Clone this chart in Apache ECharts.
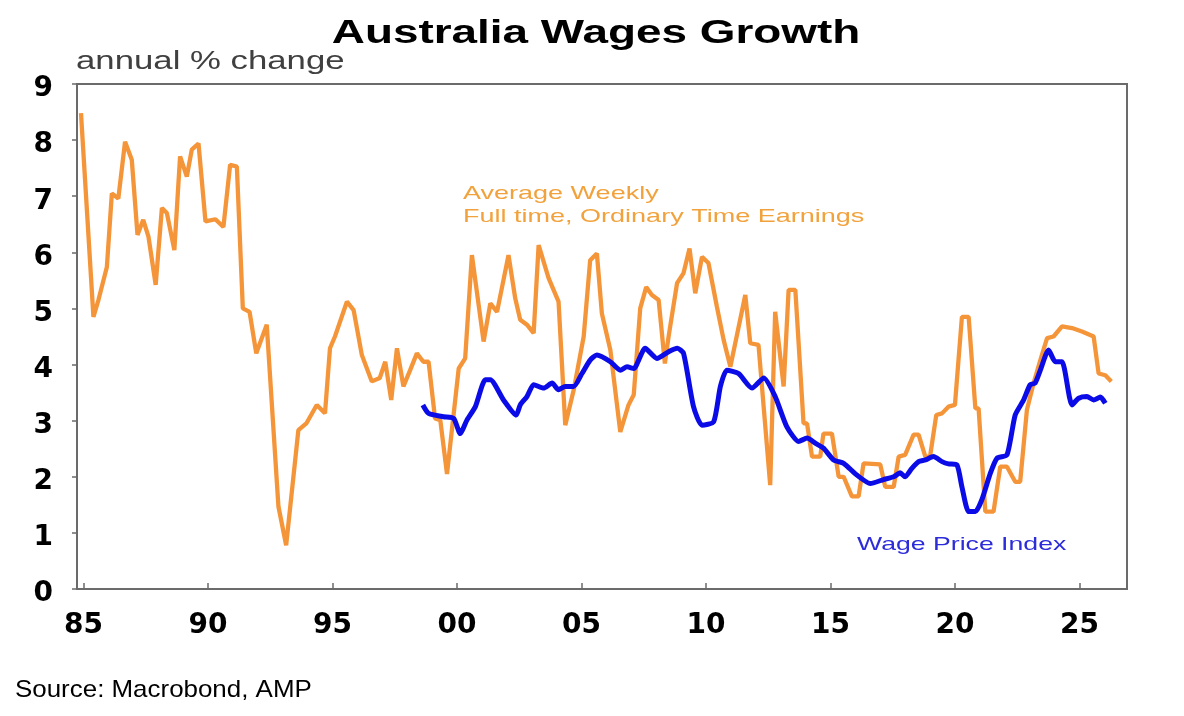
<!DOCTYPE html>
<html>
<head>
<meta charset="utf-8">
<title>Australia Wages Growth</title>
<script src="https://cdn.jsdelivr.net/npm/echarts@6/dist/echarts.min.js"></script>
<style>
  html, body { margin: 0; padding: 0; background: #fff; }
  #main { width: 1184px; height: 716px; }
</style>
</head>
<body>
<div id="main"></div>
<script>
// Average weekly full time ordinary time earnings, annual % change
var awoteYears = [1984.9, 1985.4, 1985.6, 1985.94, 1986.14, 1986.4, 1986.67, 1986.94, 1987.17, 1987.4,
  1987.61, 1987.9, 1988.15, 1988.35, 1988.65, 1988.88, 1989.15, 1989.35, 1989.62, 1989.9,
  1990.3, 1990.62, 1990.89, 1991.16, 1991.4, 1991.67, 1991.94, 1992.36, 1992.83, 1993.14,
  1993.63, 1993.95, 1994.37, 1994.7, 1994.9, 1995.1, 1995.58, 1995.85, 1996.18, 1996.58,
  1996.9, 1997.12, 1997.36, 1997.59, 1997.85, 1998.12, 1998.39, 1998.65, 1998.86, 1999.12,
  1999.33, 1999.6, 2000.07, 2000.33, 2000.6, 2001.07, 2001.34, 2001.61, 2002.07, 2002.34,
  2002.54, 2002.81, 2003.08, 2003.28, 2003.68, 2004.08, 2004.35, 2004.69, 2005.09, 2005.35,
  2005.62, 2005.82, 2006.16, 2006.56, 2006.89, 2007.1, 2007.36, 2007.6, 2007.83, 2008.1,
  2008.35, 2008.5, 2008.84, 2009.1, 2009.34, 2009.57, 2009.84, 2010.1, 2010.44, 2010.71,
  2010.98, 2011.58, 2011.78, 2012.11, 2012.58, 2012.78, 2013.12, 2013.32, 2013.59, 2013.92,
  2014.06, 2014.26, 2014.59, 2014.72, 2015.06, 2015.33, 2015.53, 2015.86, 2016.13, 2016.33,
  2017.0, 2017.2, 2017.54, 2017.74, 2018.0, 2018.34, 2018.54, 2018.81, 2019.0, 2019.25,
  2019.48, 2019.74, 2020.0, 2020.28, 2020.55, 2020.82, 2020.95, 2021.22, 2021.55, 2021.82,
  2022.09, 2022.42, 2022.62, 2022.89, 2023.16, 2023.43, 2023.7, 2023.96, 2024.3, 2024.7,
  2025.1, 2025.57, 2025.77, 2026.04, 2026.28];
var awoteValues = [8.48, 4.85, 5.15, 5.74, 7.05, 6.96, 7.97, 7.65, 6.31, 6.58,
  6.28, 5.42, 6.79, 6.70, 6.04, 7.71, 7.35, 7.83, 7.94, 6.55,
  6.59, 6.45, 7.56, 7.53, 5.00, 4.94, 4.20, 4.71, 1.47, 0.78,
  2.83, 2.95, 3.28, 3.13, 4.29, 4.50, 5.12, 4.97, 4.17, 3.70,
  3.76, 4.05, 3.37, 4.29, 3.61, 3.90, 4.20, 4.05, 4.05, 3.04,
  3.01, 2.05, 3.93, 4.11, 5.95, 4.41, 5.09, 4.94, 5.95, 5.18,
  4.80, 4.71, 4.56, 6.13, 5.54, 5.12, 2.92, 3.55, 4.50, 5.86,
  5.98, 4.91, 4.26, 2.80, 3.28, 3.46, 5.00, 5.38, 5.24, 5.15,
  4.02, 4.50, 5.45, 5.63, 6.07, 5.27, 5.92, 5.81, 5.03, 4.44,
  3.96, 5.24, 4.38, 4.35, 1.85, 4.94, 3.61, 5.33, 5.33, 2.95,
  2.95, 2.36, 2.36, 2.77, 2.77, 2.00, 2.00, 1.65, 1.65, 2.24,
  2.22, 1.82, 1.82, 2.36, 2.39, 2.75, 2.75, 2.36, 2.36, 3.10,
  3.13, 3.25, 3.28, 4.85, 4.85, 3.22, 3.22, 1.38, 1.38, 2.18,
  2.18, 1.91, 1.91, 3.19, 3.67, 4.08, 4.47, 4.50, 4.68, 4.65,
  4.59, 4.50, 3.84, 3.81, 3.70];

// Wage price index, annual % change
var wpiYears = [1998.63, 1998.86, 1999.46, 1999.87, 2000.13, 2000.4, 2000.74, 2001.14, 2001.34, 2001.87,
  2002.38, 2002.54, 2002.81, 2003.08, 2003.48, 2003.82, 2004.08, 2004.35, 2004.69, 2005.02,
  2005.35, 2005.62, 2006.16, 2006.56, 2006.83, 2007.1, 2007.56, 2008.03, 2008.5, 2008.85,
  2009.1, 2009.5, 2009.84, 2010.31, 2010.58, 2010.84, 2011.31, 2011.85, 2012.32, 2012.78,
  2013.25, 2013.72, 2014.06, 2014.39, 2014.72, 2015.13, 2015.53, 2016.06, 2016.6, 2017.13,
  2017.54, 2017.8, 2018.0, 2018.27, 2018.54, 2018.81, 2019.14, 2019.48, 2019.74, 2020.08,
  2020.28, 2020.55, 2020.82, 2021.08, 2021.42, 2021.69, 2022.09, 2022.42, 2022.76, 2023.02,
  2023.22, 2023.43, 2023.76, 2024.03, 2024.3, 2024.7, 2024.97, 2025.3, 2025.57, 2025.84,
  2026.04];
var wpiValues = [3.28, 3.13, 3.07, 3.04, 2.77, 3.01, 3.25, 3.73, 3.73, 3.37,
  3.10, 3.28, 3.43, 3.64, 3.58, 3.67, 3.55, 3.61, 3.61, 3.84,
  4.08, 4.17, 4.05, 3.90, 3.96, 3.93, 4.29, 4.11, 4.23, 4.29,
  4.20, 3.25, 2.92, 2.98, 3.61, 3.90, 3.84, 3.58, 3.76, 3.43,
  2.89, 2.63, 2.69, 2.60, 2.51, 2.30, 2.24, 2.03, 1.88, 1.95,
  2.00, 2.07, 2.00, 2.15, 2.27, 2.30, 2.36, 2.27, 2.23, 2.21,
  1.82, 1.38, 1.38, 1.59, 2.06, 2.33, 2.39, 3.10, 3.37, 3.64,
  3.67, 3.90, 4.26, 4.05, 4.05, 3.28, 3.40, 3.43, 3.37, 3.42,
  3.31];

var xTicks = [1985, 1990, 1995, 2000, 2005, 2010, 2015, 2020, 2025];
var yTicks = [0, 1, 2, 3, 4, 5, 6, 7, 8, 9];

function pairs(xs, ys) {
  var out = [];
  for (var i = 0; i < xs.length; i++) {
    out.push([xs[i], ys[i]]);
  }
  return out;
}

var chart = echarts.init(document.getElementById('main'), null, { renderer: 'canvas' });

var axisGray = '#6b6b6b';

var option = {
  animation: false,
  backgroundColor: '#ffffff',
  grid: {
    left: 77,
    right: 57,
    top: 84,
    bottom: 127,
    show: true,
    borderColor: axisGray,
    borderWidth: 2
  },
  xAxis: {
    type: 'value',
    min: 1984.74,
    max: 2026.91,
    splitLine: { show: false },
    axisLine: { show: true, lineStyle: { color: axisGray, width: 2 } },
    axisTick: {
      show: true,
      inside: true,
      length: 6,
      customValues: xTicks,
      lineStyle: { color: axisGray, width: 1.5 }
    },
    axisLabel: {
      customValues: xTicks,
      margin: 23,
      color: '#000',
      fontFamily: 'DejaVu Sans',
      fontWeight: 'bold',
      fontSize: 28,
      formatter: function (v) {
        return String(v).slice(2);
      }
    }
  },
  yAxis: {
    type: 'value',
    min: 0,
    max: 9,
    interval: 1,
    splitLine: { show: false },
    axisLine: { show: true, lineStyle: { color: axisGray, width: 2 } },
    axisTick: {
      show: true,
      inside: false,
      length: 5,
      customValues: yTicks,
      lineStyle: { color: axisGray, width: 1.5 }
    },
    axisLabel: {
      margin: 24,
      verticalAlign: 'top',
      lineHeight: 10,
      color: '#000',
      fontFamily: 'DejaVu Sans',
      fontWeight: 'bold',
      fontSize: 28
    }
  },
  series: [
    {
      name: 'Average Weekly Full time, Ordinary Time Earnings',
      type: 'line',
      data: pairs(awoteYears, awoteValues),
      showSymbol: false,
      lineStyle: { color: '#F5953A', width: 4.3 },
      z: 2
    },
    {
      name: 'Wage Price Index',
      type: 'line',
      data: pairs(wpiYears, wpiValues),
      showSymbol: false,
      smooth: 0.2,
      lineStyle: { color: '#0B0BE8', width: 5 },
      z: 3
    }
  ],
  graphic: [
    {
      type: 'text', x: 596, y: 34, scaleX: 1.39,
      style: { text: 'Australia Wages Growth', fill: '#000', fontFamily: 'Liberation Sans',
        fontWeight: 'bold', fontSize: 33, textAlign: 'center', textVerticalAlign: 'middle' }
    },
    {
      type: 'text', x: 76, y: 62.5, scaleX: 1.39,
      style: { text: 'annual % change', fill: '#404040', fontFamily: 'Liberation Sans',
        fontSize: 25, textAlign: 'left', textVerticalAlign: 'middle' }
    },
    {
      type: 'text', x: 463, y: 193.5, scaleX: 1.46,
      style: { text: 'Average Weekly', fill: '#F2A23C', fontFamily: 'Liberation Sans',
        fontSize: 18.5, textAlign: 'left', textVerticalAlign: 'middle' }
    },
    {
      type: 'text', x: 463, y: 216.5, scaleX: 1.46,
      style: { text: 'Full time, Ordinary Time Earnings', fill: '#F2A23C', fontFamily: 'Liberation Sans',
        fontSize: 18.5, textAlign: 'left', textVerticalAlign: 'middle' }
    },
    {
      type: 'text', x: 857, y: 545.2, scaleX: 1.44,
      style: { text: 'Wage Price Index', fill: '#2C2CDB', fontFamily: 'Liberation Sans',
        fontSize: 18.5, textAlign: 'left', textVerticalAlign: 'middle' }
    },
    {
      type: 'text', x: 15, y: 690.5, scaleX: 1.08,
      style: { text: 'Source: Macrobond, AMP', fill: '#000', fontFamily: 'Liberation Sans',
        fontSize: 24, textAlign: 'left', textVerticalAlign: 'middle' }
    }
  ]
};

chart.setOption(option);
</script>
</body>
</html>
